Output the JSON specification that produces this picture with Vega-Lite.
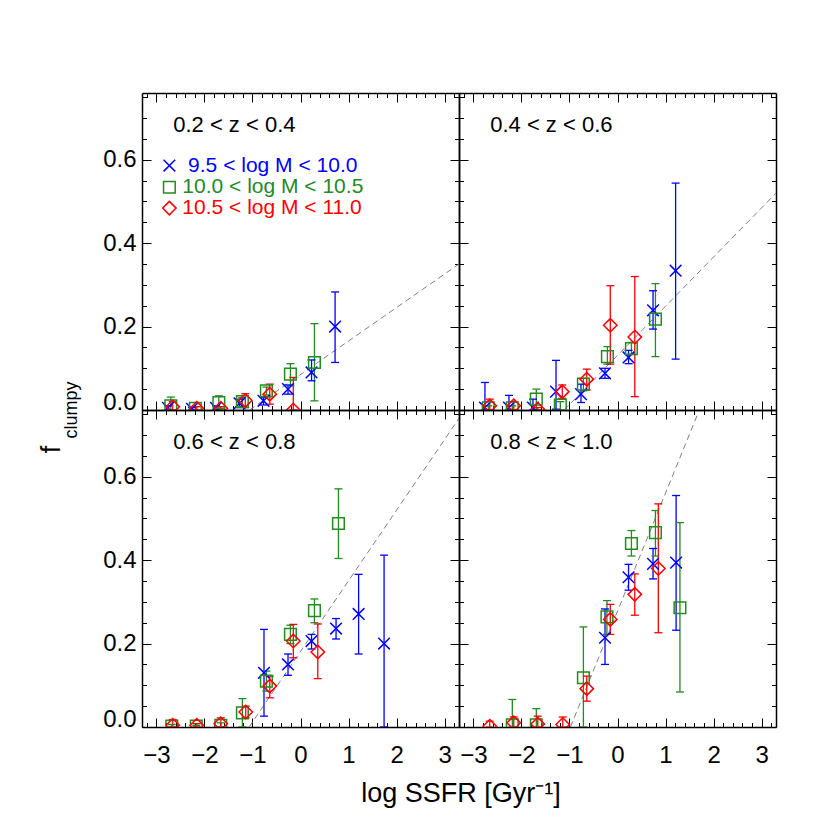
{
"$schema":"https://vega.github.io/schema/vega-lite/v6.json",
"padding":{"left":37,"top":85,"right":5,"bottom":5},
"config":{"view":{"stroke":null},"font":"Liberation Sans","axis":{"grid":false}},
"datasets":{
"pts":[
{"p":"TL","m":"b","x":-2.76,"y":0.005,"lo":0,"hi":0.01},
{"p":"TL","m":"b","x":-2.26,"y":0.003,"lo":0,"hi":0.006},
{"p":"TL","m":"b","x":-1.76,"y":0.005,"lo":0,"hi":0.01},
{"p":"TL","m":"b","x":-1.27,"y":0.016,"lo":0.006,"hi":0.026},
{"p":"TL","m":"b","x":-0.77,"y":0.022,"lo":0.012,"hi":0.03},
{"p":"TL","m":"b","x":-0.26,"y":0.05,"lo":0.038,"hi":0.06},
{"p":"TL","m":"b","x":0.23,"y":0.09,"lo":0.07,"hi":0.12},
{"p":"TL","m":"b","x":0.72,"y":0.2,"lo":0.114,"hi":0.283},
{"p":"TL","m":"g","x":-2.7,"y":0.01,"lo":0,"hi":0.031},
{"p":"TL","m":"g","x":-2.19,"y":0.004,"lo":0,"hi":0.008},
{"p":"TL","m":"g","x":-1.7,"y":0.018,"lo":0,"hi":0.034},
{"p":"TL","m":"g","x":-1.21,"y":0.02,"lo":0.008,"hi":0.03},
{"p":"TL","m":"g","x":-0.71,"y":0.046,"lo":0.036,"hi":0.055},
{"p":"TL","m":"g","x":-0.21,"y":0.086,"lo":0.058,"hi":0.111},
{"p":"TL","m":"g","x":0.29,"y":0.114,"lo":0.022,"hi":0.207},
{"p":"TL","m":"r","x":-2.66,"y":0.008,"lo":0,"hi":0.02},
{"p":"TL","m":"r","x":-2.16,"y":0.004,"lo":0,"hi":0.008},
{"p":"TL","m":"r","x":-1.66,"y":0.004,"lo":0,"hi":0.008},
{"p":"TL","m":"r","x":-1.15,"y":0.023,"lo":0.006,"hi":0.039},
{"p":"TL","m":"r","x":-0.64,"y":0.038,"lo":0.014,"hi":0.062},
{"p":"TL","m":"r","x":-0.15,"y":0,"lo":0,"hi":0.078},
{"p":"TR","m":"b","x":-2.76,"y":0.006,"lo":0,"hi":0.066},
{"p":"TR","m":"b","x":-2.26,"y":0.006,"lo":0,"hi":0.035},
{"p":"TR","m":"b","x":-1.76,"y":0.006,"lo":0,"hi":0.026},
{"p":"TR","m":"b","x":-1.28,"y":0.044,"lo":0.002,"hi":0.119},
{"p":"TR","m":"b","x":-0.76,"y":0.038,"lo":0.018,"hi":0.062},
{"p":"TR","m":"b","x":-0.26,"y":0.088,"lo":0.076,"hi":0.1},
{"p":"TR","m":"b","x":0.23,"y":0.126,"lo":0.111,"hi":0.143},
{"p":"TR","m":"b","x":0.74,"y":0.239,"lo":0.194,"hi":0.286},
{"p":"TR","m":"b","x":1.21,"y":0.334,"lo":0.122,"hi":0.544},
{"p":"TR","m":"g","x":-2.69,"y":0.005,"lo":0,"hi":0.01},
{"p":"TR","m":"g","x":-2.19,"y":0.005,"lo":0,"hi":0.01},
{"p":"TR","m":"g","x":-1.69,"y":0.026,"lo":0,"hi":0.05},
{"p":"TR","m":"g","x":-1.19,"y":0.012,"lo":0,"hi":0.02},
{"p":"TR","m":"g","x":-0.71,"y":0.062,"lo":0.046,"hi":0.076},
{"p":"TR","m":"g","x":-0.21,"y":0.128,"lo":0.11,"hi":0.152},
{"p":"TR","m":"g","x":0.29,"y":0.147,"lo":0.134,"hi":0.162},
{"p":"TR","m":"g","x":0.79,"y":0.218,"lo":0.128,"hi":0.303},
{"p":"TR","m":"r","x":-2.66,"y":0.01,"lo":0,"hi":0.026},
{"p":"TR","m":"r","x":-2.16,"y":0.01,"lo":0,"hi":0.02},
{"p":"TR","m":"r","x":-1.66,"y":0.002,"lo":0,"hi":0.006},
{"p":"TR","m":"r","x":-1.15,"y":0.044,"lo":0.028,"hi":0.06},
{"p":"TR","m":"r","x":-0.64,"y":0.074,"lo":0.048,"hi":0.098},
{"p":"TR","m":"r","x":-0.15,"y":0.203,"lo":0.11,"hi":0.298},
{"p":"TR","m":"r","x":0.36,"y":0.175,"lo":0.032,"hi":0.32},
{"p":"BL","m":"b","x":-0.76,"y":0.13,"lo":0.026,"hi":0.234},
{"p":"BL","m":"b","x":-0.26,"y":0.15,"lo":0.124,"hi":0.175},
{"p":"BL","m":"b","x":0.23,"y":0.206,"lo":0.187,"hi":0.222},
{"p":"BL","m":"b","x":0.74,"y":0.236,"lo":0.211,"hi":0.26},
{"p":"BL","m":"b","x":1.21,"y":0.271,"lo":0.175,"hi":0.366},
{"p":"BL","m":"b","x":1.74,"y":0.2,"lo":0,"hi":0.412},
{"p":"BL","m":"g","x":-2.68,"y":0.002,"lo":0,"hi":0.006},
{"p":"BL","m":"g","x":-2.17,"y":0.002,"lo":0,"hi":0.004},
{"p":"BL","m":"g","x":-1.66,"y":0.004,"lo":0,"hi":0.01},
{"p":"BL","m":"g","x":-1.21,"y":0.034,"lo":0,"hi":0.068},
{"p":"BL","m":"g","x":-0.71,"y":0.11,"lo":0.086,"hi":0.134},
{"p":"BL","m":"g","x":-0.21,"y":0.222,"lo":0.2,"hi":0.244},
{"p":"BL","m":"g","x":0.29,"y":0.279,"lo":0.25,"hi":0.307},
{"p":"BL","m":"g","x":0.79,"y":0.488,"lo":0.404,"hi":0.571},
{"p":"BL","m":"r","x":-2.66,"y":0.004,"lo":0,"hi":0.018},
{"p":"BL","m":"r","x":-2.16,"y":0.004,"lo":0,"hi":0.008},
{"p":"BL","m":"r","x":-1.66,"y":0.008,"lo":0,"hi":0.022},
{"p":"BL","m":"r","x":-1.14,"y":0.036,"lo":0.022,"hi":0.05},
{"p":"BL","m":"r","x":-0.64,"y":0.098,"lo":0.07,"hi":0.122},
{"p":"BL","m":"r","x":-0.15,"y":0.206,"lo":0.166,"hi":0.246},
{"p":"BL","m":"r","x":0.36,"y":0.18,"lo":0.116,"hi":0.247},
{"p":"BR","m":"b","x":-0.26,"y":0.214,"lo":0.15,"hi":0.283},
{"p":"BR","m":"b","x":0.23,"y":0.359,"lo":0.328,"hi":0.39},
{"p":"BR","m":"b","x":0.74,"y":0.391,"lo":0.355,"hi":0.428},
{"p":"BR","m":"b","x":1.22,"y":0.394,"lo":0.232,"hi":0.555},
{"p":"BR","m":"g","x":-2.19,"y":0.005,"lo":0,"hi":0.066},
{"p":"BR","m":"g","x":-1.69,"y":0.005,"lo":0,"hi":0.044},
{"p":"BR","m":"g","x":-0.71,"y":0.118,"lo":0,"hi":0.24},
{"p":"BR","m":"g","x":-0.22,"y":0.264,"lo":0.222,"hi":0.303},
{"p":"BR","m":"g","x":0.29,"y":0.44,"lo":0.41,"hi":0.471},
{"p":"BR","m":"g","x":0.79,"y":0.466,"lo":0.41,"hi":0.519},
{"p":"BR","m":"g","x":1.3,"y":0.286,"lo":0.084,"hi":0.49},
{"p":"BR","m":"r","x":-2.66,"y":0.002,"lo":0,"hi":0.014},
{"p":"BR","m":"r","x":-2.16,"y":0.01,"lo":0,"hi":0.024},
{"p":"BR","m":"r","x":-1.66,"y":0.007,"lo":0,"hi":0.026},
{"p":"BR","m":"r","x":-1.14,"y":0.006,"lo":0,"hi":0.024},
{"p":"BR","m":"r","x":-0.64,"y":0.092,"lo":0.062,"hi":0.122},
{"p":"BR","m":"r","x":-0.15,"y":0.258,"lo":0.222,"hi":0.294},
{"p":"BR","m":"r","x":0.36,"y":0.318,"lo":0.268,"hi":0.367},
{"p":"BR","m":"r","x":0.85,"y":0.38,"lo":0.226,"hi":0.535}
],
"fits":[
{"p":"TL","x":-1.06,"y":0},{"p":"TL","x":3.3,"y":0.35},
{"p":"TR","x":-1.11,"y":0},{"p":"TR","x":3.3,"y":0.52},
{"p":"BL","x":-1.07,"y":0},{"p":"BL","x":3.3,"y":0.74},
{"p":"BR","x":-0.98,"y":0},{"p":"BR","x":1.69,"y":0.756}
],
"labels":[
{"p":"TL","x":-2.65,"y":0.683,"t":"0.2 < z < 0.4"},
{"p":"TR","x":-2.65,"y":0.683,"t":"0.4 < z < 0.6"},
{"p":"BL","x":-2.65,"y":0.683,"t":"0.6 < z < 0.8"},
{"p":"BR","x":-2.65,"y":0.683,"t":"0.8 < z < 1.0"}
],
"legend":[
{"m":"b","sx":-2.73,"tx":-2.34,"y":0.586,"t":"9.5 < log M < 10.0"},
{"m":"g","sx":-2.73,"tx":-2.46,"y":0.534,"t":"10.0 < log M < 10.5"},
{"m":"r","sx":-2.73,"tx":-2.46,"y":0.484,"t":"10.5 < log M < 11.0"}
]
},
"bounds":"flush",
"spacing":0,
"columns":2,
"concat":[
{"width":317,"height":317,
"layer":[
{"data":{"name":"fits"},"transform":[{"filter":"datum.p=='TL'"}],
"mark":{"type":"line","strokeDash":[6,4],"color":"#808080","strokeWidth":1,"clip":true},
"encoding":{
"x":{"field":"x","type":"quantitative","scale":{"domain":[-3.3,3.3],"nice":false,"zero":false},
"axis":{"orient":"bottom","values":[-3.2,-3,-2.8,-2.6,-2.4,-2.2,-2,-1.8,-1.6,-1.4,-1.2,-1,-0.8,-0.6,-0.4,-0.2,0,0.2,0.4,0.6,0.8,1,1.2,1.4,1.6,1.8,2,2.2,2.4,2.6,2.8,3,3.2],"tickSize":{"condition":{"test":"abs(datum.value-round(datum.value))<0.001","value":-9},"value":-4.5},"tickColor":"black","tickWidth":1,"domainColor":"black","domainWidth":1.5,"labels":false,"title":null}},
"y":{"field":"y","type":"quantitative","scale":{"domain":[0,0.76],"nice":false,"zero":false},
"axis":{"orient":"left","values":[0,0.05,0.1,0.15,0.2,0.25,0.3,0.35,0.4,0.45,0.5,0.55,0.6,0.65,0.7,0.75],"tickSize":{"condition":{"test":"abs(datum.value*5-round(datum.value*5))<0.001","value":-9},"value":-4.5},"tickColor":"black","tickWidth":1,"domainColor":"black","domainWidth":1.5,"labelExpr":"abs(datum.value*5-round(datum.value*5))<0.001 ? format(datum.value,'.1f') : ''","labelFont":"Liberation Sans","labelFontSize":24,"labelColor":"black","labelPadding":15,"labelOffset":{"condition":{"test":"datum.value==0","value":-8},"value":0},"labelOverlap":false,"labelBound":false,"labelFlush":false,"title":null}}
}},
{"data":{"name":"pts"},"transform":[{"filter":"datum.p=='TL'"}],
"mark":{"type":"rule","strokeWidth":1.3,"clip":true},
"encoding":{
"x":{"field":"x","type":"quantitative","scale":{"domain":[-3.3,3.3],"nice":false,"zero":false},
"axis":{"orient":"top","values":[-3.2,-3,-2.8,-2.6,-2.4,-2.2,-2,-1.8,-1.6,-1.4,-1.2,-1,-0.8,-0.6,-0.4,-0.2,0,0.2,0.4,0.6,0.8,1,1.2,1.4,1.6,1.8,2,2.2,2.4,2.6,2.8,3,3.2],"tickSize":{"condition":{"test":"abs(datum.value-round(datum.value))<0.001","value":-9},"value":-4.5},"tickColor":"black","tickWidth":1,"domainColor":"black","domainWidth":1.5,"labels":false,"title":null}},
"y":{"field":"lo","type":"quantitative","scale":{"domain":[0,0.76],"nice":false,"zero":false},
"axis":{"orient":"right","values":[0,0.05,0.1,0.15,0.2,0.25,0.3,0.35,0.4,0.45,0.5,0.55,0.6,0.65,0.7,0.75],"tickSize":{"condition":{"test":"abs(datum.value*5-round(datum.value*5))<0.001","value":-9},"value":-4.5},"tickColor":"black","tickWidth":1,"domainColor":"black","domainWidth":1.5,"labels":false,"title":null}},
"y2":{"field":"hi"},
"color":{"field":"m","type":"nominal","scale":{"domain":["b","g","r"],"range":["#0000ff","#228b22","#ff0000"]},"legend":null}
}},
{"data":{"name":"pts"},"transform":[{"filter":"datum.p=='TL'"}],
"mark":{"type":"tick","orient":"horizontal","size":8,"thickness":1.3,"clip":true,"opacity":1},
"encoding":{"x":{"field":"x","type":"quantitative","axis":null},"y":{"field":"lo","type":"quantitative","axis":null},"color":{"field":"m","type":"nominal","legend":null}}},
{"data":{"name":"pts"},"transform":[{"filter":"datum.p=='TL'"}],
"mark":{"type":"tick","orient":"horizontal","size":8,"thickness":1.3,"clip":true,"opacity":1},
"encoding":{"x":{"field":"x","type":"quantitative","axis":null},"y":{"field":"hi","type":"quantitative","axis":null},"color":{"field":"m","type":"nominal","legend":null}}},
{"data":{"name":"pts"},"transform":[{"filter":"datum.p=='TL'"}],
"mark":{"type":"point","filled":false,"strokeWidth":1.5,"size":144,"clip":true,"opacity":1},
"encoding":{"x":{"field":"x","type":"quantitative","axis":null},"y":{"field":"y","type":"quantitative","axis":null},"color":{"field":"m","type":"nominal","legend":null},
"shape":{"field":"m","type":"nominal","scale":{"domain":["b","g","r"],"range":["M-0.97,-0.97L0.97,0.97M-0.97,0.97L0.97,-0.97","M-0.97,-0.97H0.97V0.97H-0.97Z","M0,-1.12L1.12,0L0,1.12L-1.12,0Z"]},"legend":null}}},
{"data":{"name":"labels"},"transform":[{"filter":"datum.p=='TL'"}],
"mark":{"type":"text","align":"left","baseline":"middle","fontSize":22,"font":"Liberation Sans","color":"black"},
"encoding":{"x":{"field":"x","type":"quantitative","axis":null},"y":{"field":"y","type":"quantitative","axis":null},"text":{"field":"t"}}},
{"data":{"name":"legend"},
"mark":{"type":"point","filled":false,"strokeWidth":1.5,"size":144,"opacity":1},
"encoding":{"x":{"field":"sx","type":"quantitative","axis":null},"y":{"field":"y","type":"quantitative","axis":null},"color":{"field":"m","type":"nominal","legend":null},
"shape":{"field":"m","type":"nominal","legend":null}}},
{"data":{"name":"legend"},
"mark":{"type":"text","align":"left","baseline":"middle","fontSize":21,"font":"Liberation Sans"},
"encoding":{"x":{"field":"tx","type":"quantitative","axis":null},"y":{"field":"y","type":"quantitative","axis":null},"color":{"field":"m","type":"nominal","legend":null},"text":{"field":"t"}}}
],
"resolve":{"axis":{"x":"independent","y":"independent"}}
},
{"width":317,"height":317,
"layer":[
{"data":{"name":"fits"},"transform":[{"filter":"datum.p=='TR'"}],
"mark":{"type":"line","strokeDash":[6,4],"color":"#808080","strokeWidth":1,"clip":true},
"encoding":{
"x":{"field":"x","type":"quantitative","scale":{"domain":[-3.3,3.3],"nice":false,"zero":false},
"axis":{"orient":"bottom","values":[-3.2,-3,-2.8,-2.6,-2.4,-2.2,-2,-1.8,-1.6,-1.4,-1.2,-1,-0.8,-0.6,-0.4,-0.2,0,0.2,0.4,0.6,0.8,1,1.2,1.4,1.6,1.8,2,2.2,2.4,2.6,2.8,3,3.2],"tickSize":{"condition":{"test":"abs(datum.value-round(datum.value))<0.001","value":-9},"value":-4.5},"tickColor":"black","tickWidth":1,"domainColor":"black","domainWidth":1.5,"labels":false,"title":null}},
"y":{"field":"y","type":"quantitative","scale":{"domain":[0,0.76],"nice":false,"zero":false},
"axis":{"orient":"left","values":[0,0.05,0.1,0.15,0.2,0.25,0.3,0.35,0.4,0.45,0.5,0.55,0.6,0.65,0.7,0.75],"tickSize":{"condition":{"test":"abs(datum.value*5-round(datum.value*5))<0.001","value":-9},"value":-4.5},"tickColor":"black","tickWidth":1,"domainColor":"black","domainWidth":1.5,"labels":false,"title":null}}
}},
{"data":{"name":"pts"},"transform":[{"filter":"datum.p=='TR'"}],
"mark":{"type":"rule","strokeWidth":1.3,"clip":true},
"encoding":{
"x":{"field":"x","type":"quantitative","scale":{"domain":[-3.3,3.3],"nice":false,"zero":false},
"axis":{"orient":"top","values":[-3.2,-3,-2.8,-2.6,-2.4,-2.2,-2,-1.8,-1.6,-1.4,-1.2,-1,-0.8,-0.6,-0.4,-0.2,0,0.2,0.4,0.6,0.8,1,1.2,1.4,1.6,1.8,2,2.2,2.4,2.6,2.8,3,3.2],"tickSize":{"condition":{"test":"abs(datum.value-round(datum.value))<0.001","value":-9},"value":-4.5},"tickColor":"black","tickWidth":1,"domainColor":"black","domainWidth":1.5,"labels":false,"title":null}},
"y":{"field":"lo","type":"quantitative","scale":{"domain":[0,0.76],"nice":false,"zero":false},
"axis":{"orient":"right","values":[0,0.05,0.1,0.15,0.2,0.25,0.3,0.35,0.4,0.45,0.5,0.55,0.6,0.65,0.7,0.75],"tickSize":{"condition":{"test":"abs(datum.value*5-round(datum.value*5))<0.001","value":-9},"value":-4.5},"tickColor":"black","tickWidth":1,"domainColor":"black","domainWidth":1.5,"labels":false,"title":null}},
"y2":{"field":"hi"},
"color":{"field":"m","type":"nominal","scale":{"domain":["b","g","r"],"range":["#0000ff","#228b22","#ff0000"]},"legend":null}
}},
{"data":{"name":"pts"},"transform":[{"filter":"datum.p=='TR'"}],
"mark":{"type":"tick","orient":"horizontal","size":8,"thickness":1.3,"clip":true,"opacity":1},
"encoding":{"x":{"field":"x","type":"quantitative","axis":null},"y":{"field":"lo","type":"quantitative","axis":null},"color":{"field":"m","type":"nominal","legend":null}}},
{"data":{"name":"pts"},"transform":[{"filter":"datum.p=='TR'"}],
"mark":{"type":"tick","orient":"horizontal","size":8,"thickness":1.3,"clip":true,"opacity":1},
"encoding":{"x":{"field":"x","type":"quantitative","axis":null},"y":{"field":"hi","type":"quantitative","axis":null},"color":{"field":"m","type":"nominal","legend":null}}},
{"data":{"name":"pts"},"transform":[{"filter":"datum.p=='TR'"}],
"mark":{"type":"point","filled":false,"strokeWidth":1.5,"size":144,"clip":true,"opacity":1},
"encoding":{"x":{"field":"x","type":"quantitative","axis":null},"y":{"field":"y","type":"quantitative","axis":null},"color":{"field":"m","type":"nominal","legend":null},
"shape":{"field":"m","type":"nominal","scale":{"domain":["b","g","r"],"range":["M-0.97,-0.97L0.97,0.97M-0.97,0.97L0.97,-0.97","M-0.97,-0.97H0.97V0.97H-0.97Z","M0,-1.12L1.12,0L0,1.12L-1.12,0Z"]},"legend":null}}},
{"data":{"name":"labels"},"transform":[{"filter":"datum.p=='TR'"}],
"mark":{"type":"text","align":"left","baseline":"middle","fontSize":22,"font":"Liberation Sans","color":"black"},
"encoding":{"x":{"field":"x","type":"quantitative","axis":null},"y":{"field":"y","type":"quantitative","axis":null},"text":{"field":"t"}}}
],
"resolve":{"axis":{"x":"independent","y":"independent"}}
},
{"width":317,"height":317,
"layer":[
{"data":{"name":"fits"},"transform":[{"filter":"datum.p=='BL'"}],
"mark":{"type":"line","strokeDash":[6,4],"color":"#808080","strokeWidth":1,"clip":true},
"encoding":{
"x":{"field":"x","type":"quantitative","scale":{"domain":[-3.3,3.3],"nice":false,"zero":false},
"axis":{"orient":"bottom","values":[-3.2,-3,-2.8,-2.6,-2.4,-2.2,-2,-1.8,-1.6,-1.4,-1.2,-1,-0.8,-0.6,-0.4,-0.2,0,0.2,0.4,0.6,0.8,1,1.2,1.4,1.6,1.8,2,2.2,2.4,2.6,2.8,3,3.2],"tickSize":{"condition":{"test":"abs(datum.value-round(datum.value))<0.001","value":-9},"value":-4.5},"tickColor":"black","tickWidth":1,"domainColor":"black","domainWidth":1.5,"labelExpr":"abs(datum.value-round(datum.value))<0.001 ? (datum.value<0 ? '\u2212'+format(-datum.value,'d') : format(datum.value,'d')) : ''","labelFont":"Liberation Sans","labelFontSize":24,"labelColor":"black","labelPadding":25,"labelOverlap":false,"labelFlush":false,"labelBound":false,
"title":"log SSFR [Gyr\u207b\u00b9]","titleX":318.5,"titleY":74,"titleAlign":"center","titleBaseline":"alphabetic","titleFont":"Liberation Sans","titleFontSize":27,"titleFontWeight":"normal","titleColor":"black"}},
"y":{"field":"y","type":"quantitative","scale":{"domain":[0,0.76],"nice":false,"zero":false},
"axis":{"orient":"left","values":[0,0.05,0.1,0.15,0.2,0.25,0.3,0.35,0.4,0.45,0.5,0.55,0.6,0.65,0.7,0.75],"tickSize":{"condition":{"test":"abs(datum.value*5-round(datum.value*5))<0.001","value":-9},"value":-4.5},"tickColor":"black","tickWidth":1,"domainColor":"black","domainWidth":1.5,"labelExpr":"abs(datum.value*5-round(datum.value*5))<0.001 ? format(datum.value,'.1f') : ''","labelFont":"Liberation Sans","labelFontSize":24,"labelColor":"black","labelPadding":15,"labelOffset":{"condition":{"test":"datum.value==0","value":-8},"value":0},"labelOverlap":false,"labelBound":false,"labelFlush":false,
"title":"f","titleX":-83,"titleY":39,"titleAngle":270,"titleAlign":"center","titleBaseline":"alphabetic","titleFont":"Liberation Sans","titleFontSize":27,"titleFontWeight":"normal","titleColor":"black"}}
}},
{"data":{"name":"pts"},"transform":[{"filter":"datum.p=='BL'"}],
"mark":{"type":"rule","strokeWidth":1.3,"clip":true},
"encoding":{
"x":{"field":"x","type":"quantitative","scale":{"domain":[-3.3,3.3],"nice":false,"zero":false},
"axis":{"orient":"top","values":[-3.2,-3,-2.8,-2.6,-2.4,-2.2,-2,-1.8,-1.6,-1.4,-1.2,-1,-0.8,-0.6,-0.4,-0.2,0,0.2,0.4,0.6,0.8,1,1.2,1.4,1.6,1.8,2,2.2,2.4,2.6,2.8,3,3.2],"tickSize":{"condition":{"test":"abs(datum.value-round(datum.value))<0.001","value":-9},"value":-4.5},"tickColor":"black","tickWidth":1,"domainColor":"black","domainWidth":1.5,"labels":false,"title":null}},
"y":{"field":"lo","type":"quantitative","scale":{"domain":[0,0.76],"nice":false,"zero":false},
"axis":{"orient":"right","values":[0,0.05,0.1,0.15,0.2,0.25,0.3,0.35,0.4,0.45,0.5,0.55,0.6,0.65,0.7,0.75],"tickSize":{"condition":{"test":"abs(datum.value*5-round(datum.value*5))<0.001","value":-9},"value":-4.5},"tickColor":"black","tickWidth":1,"domainColor":"black","domainWidth":1.5,"labels":false,
"title":"clumpy","titleX":-382.5,"titleY":-0.5,"titleAngle":270,"titleAlign":"center","titleBaseline":"alphabetic","titleFont":"Liberation Sans","titleFontSize":18,"titleFontWeight":"normal","titleColor":"black"}},
"y2":{"field":"hi"},
"color":{"field":"m","type":"nominal","scale":{"domain":["b","g","r"],"range":["#0000ff","#228b22","#ff0000"]},"legend":null}
}},
{"data":{"name":"pts"},"transform":[{"filter":"datum.p=='BL'"}],
"mark":{"type":"tick","orient":"horizontal","size":8,"thickness":1.3,"clip":true,"opacity":1},
"encoding":{"x":{"field":"x","type":"quantitative","axis":null},"y":{"field":"lo","type":"quantitative","axis":null},"color":{"field":"m","type":"nominal","legend":null}}},
{"data":{"name":"pts"},"transform":[{"filter":"datum.p=='BL'"}],
"mark":{"type":"tick","orient":"horizontal","size":8,"thickness":1.3,"clip":true,"opacity":1},
"encoding":{"x":{"field":"x","type":"quantitative","axis":null},"y":{"field":"hi","type":"quantitative","axis":null},"color":{"field":"m","type":"nominal","legend":null}}},
{"data":{"name":"pts"},"transform":[{"filter":"datum.p=='BL'"}],
"mark":{"type":"point","filled":false,"strokeWidth":1.5,"size":144,"clip":true,"opacity":1},
"encoding":{"x":{"field":"x","type":"quantitative","axis":null},"y":{"field":"y","type":"quantitative","axis":null},"color":{"field":"m","type":"nominal","legend":null},
"shape":{"field":"m","type":"nominal","scale":{"domain":["b","g","r"],"range":["M-0.97,-0.97L0.97,0.97M-0.97,0.97L0.97,-0.97","M-0.97,-0.97H0.97V0.97H-0.97Z","M0,-1.12L1.12,0L0,1.12L-1.12,0Z"]},"legend":null}}},
{"data":{"name":"labels"},"transform":[{"filter":"datum.p=='BL'"}],
"mark":{"type":"text","align":"left","baseline":"middle","fontSize":22,"font":"Liberation Sans","color":"black"},
"encoding":{"x":{"field":"x","type":"quantitative","axis":null},"y":{"field":"y","type":"quantitative","axis":null},"text":{"field":"t"}}}
],
"resolve":{"axis":{"x":"independent","y":"independent"}}
},
{"width":317,"height":317,
"layer":[
{"data":{"name":"fits"},"transform":[{"filter":"datum.p=='BR'"}],
"mark":{"type":"line","strokeDash":[6,4],"color":"#808080","strokeWidth":1,"clip":true},
"encoding":{
"x":{"field":"x","type":"quantitative","scale":{"domain":[-3.3,3.3],"nice":false,"zero":false},
"axis":{"orient":"bottom","values":[-3.2,-3,-2.8,-2.6,-2.4,-2.2,-2,-1.8,-1.6,-1.4,-1.2,-1,-0.8,-0.6,-0.4,-0.2,0,0.2,0.4,0.6,0.8,1,1.2,1.4,1.6,1.8,2,2.2,2.4,2.6,2.8,3,3.2],"tickSize":{"condition":{"test":"abs(datum.value-round(datum.value))<0.001","value":-9},"value":-4.5},"tickColor":"black","tickWidth":1,"domainColor":"black","domainWidth":1.5,"labelExpr":"abs(datum.value-round(datum.value))<0.001 ? (datum.value<0 ? '\u2212'+format(-datum.value,'d') : format(datum.value,'d')) : ''","labelFont":"Liberation Sans","labelFontSize":24,"labelColor":"black","labelPadding":25,"labelOverlap":false,"labelFlush":false,"labelBound":false,"title":null}},
"y":{"field":"y","type":"quantitative","scale":{"domain":[0,0.76],"nice":false,"zero":false},
"axis":{"orient":"left","values":[0,0.05,0.1,0.15,0.2,0.25,0.3,0.35,0.4,0.45,0.5,0.55,0.6,0.65,0.7,0.75],"tickSize":{"condition":{"test":"abs(datum.value*5-round(datum.value*5))<0.001","value":-9},"value":-4.5},"tickColor":"black","tickWidth":1,"domainColor":"black","domainWidth":1.5,"labels":false,"title":null}}
}},
{"data":{"name":"pts"},"transform":[{"filter":"datum.p=='BR'"}],
"mark":{"type":"rule","strokeWidth":1.3,"clip":true},
"encoding":{
"x":{"field":"x","type":"quantitative","scale":{"domain":[-3.3,3.3],"nice":false,"zero":false},
"axis":{"orient":"top","values":[-3.2,-3,-2.8,-2.6,-2.4,-2.2,-2,-1.8,-1.6,-1.4,-1.2,-1,-0.8,-0.6,-0.4,-0.2,0,0.2,0.4,0.6,0.8,1,1.2,1.4,1.6,1.8,2,2.2,2.4,2.6,2.8,3,3.2],"tickSize":{"condition":{"test":"abs(datum.value-round(datum.value))<0.001","value":-9},"value":-4.5},"tickColor":"black","tickWidth":1,"domainColor":"black","domainWidth":1.5,"labels":false,"title":null}},
"y":{"field":"lo","type":"quantitative","scale":{"domain":[0,0.76],"nice":false,"zero":false},
"axis":{"orient":"right","values":[0,0.05,0.1,0.15,0.2,0.25,0.3,0.35,0.4,0.45,0.5,0.55,0.6,0.65,0.7,0.75],"tickSize":{"condition":{"test":"abs(datum.value*5-round(datum.value*5))<0.001","value":-9},"value":-4.5},"tickColor":"black","tickWidth":1,"domainColor":"black","domainWidth":1.5,"labels":false,"title":null}},
"y2":{"field":"hi"},
"color":{"field":"m","type":"nominal","scale":{"domain":["b","g","r"],"range":["#0000ff","#228b22","#ff0000"]},"legend":null}
}},
{"data":{"name":"pts"},"transform":[{"filter":"datum.p=='BR'"}],
"mark":{"type":"tick","orient":"horizontal","size":8,"thickness":1.3,"clip":true,"opacity":1},
"encoding":{"x":{"field":"x","type":"quantitative","axis":null},"y":{"field":"lo","type":"quantitative","axis":null},"color":{"field":"m","type":"nominal","legend":null}}},
{"data":{"name":"pts"},"transform":[{"filter":"datum.p=='BR'"}],
"mark":{"type":"tick","orient":"horizontal","size":8,"thickness":1.3,"clip":true,"opacity":1},
"encoding":{"x":{"field":"x","type":"quantitative","axis":null},"y":{"field":"hi","type":"quantitative","axis":null},"color":{"field":"m","type":"nominal","legend":null}}},
{"data":{"name":"pts"},"transform":[{"filter":"datum.p=='BR'"}],
"mark":{"type":"point","filled":false,"strokeWidth":1.5,"size":144,"clip":true,"opacity":1},
"encoding":{"x":{"field":"x","type":"quantitative","axis":null},"y":{"field":"y","type":"quantitative","axis":null},"color":{"field":"m","type":"nominal","legend":null},
"shape":{"field":"m","type":"nominal","scale":{"domain":["b","g","r"],"range":["M-0.97,-0.97L0.97,0.97M-0.97,0.97L0.97,-0.97","M-0.97,-0.97H0.97V0.97H-0.97Z","M0,-1.12L1.12,0L0,1.12L-1.12,0Z"]},"legend":null}}},
{"data":{"name":"labels"},"transform":[{"filter":"datum.p=='BR'"}],
"mark":{"type":"text","align":"left","baseline":"middle","fontSize":22,"font":"Liberation Sans","color":"black"},
"encoding":{"x":{"field":"x","type":"quantitative","axis":null},"y":{"field":"y","type":"quantitative","axis":null},"text":{"field":"t"}}}
],
"resolve":{"axis":{"x":"independent","y":"independent"}}
}
]
}
